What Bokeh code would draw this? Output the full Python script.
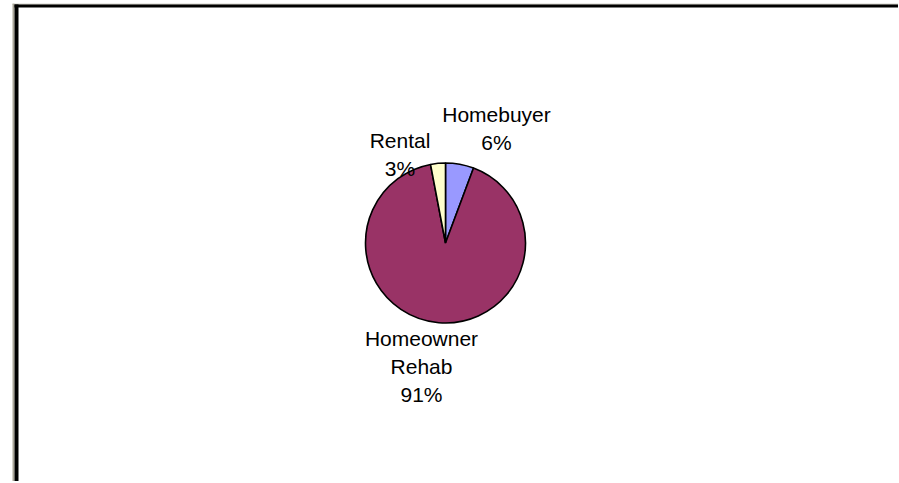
import math
from bokeh.plotting import figure
from bokeh.models import Range1d, ColumnDataSource
from bokeh.core.properties import value
from bokeh.embed import file_html
from bokeh.resources import INLINE

# ---- data ----
categories = ["Homebuyer", "Homeowner Rehab", "Rental"]
shares = [5.7, 91.3, 3.0]
colors = ["#9999FF", "#993366", "#FFFFCC"]
label_lines = [["Homebuyer"], ["Homeowner", "Rehab"], ["Rental"]]

# ---- layout (page pixel coordinates) ----
OX, OY = 3, 3          # figure top-left on page
W, H = 895, 478
CX, CY, R = 445, 242.5, 80
label_anchor = [(496, 114), (421, 338), (399.5, 140)]
LINE_H = 28
FONT = "Liberation Sans"

p = figure(width=W, height=H,
           x_range=Range1d(OX, OX + W), y_range=Range1d(-(OY + H), -OY),
           output_backend="svg", toolbar_location=None, min_border=0,
           background_fill_color="white", border_fill_color="white")
p.axis.visible = False
p.grid.visible = False
p.outline_line_color = None
p.styles = {"margin-left": "3px", "margin-top": "3px"}

# frame (gray outer, black inner) on top and left
p.quad(left=[12, 12], right=[OX + W, 14], top=[-3, -3], bottom=[-4, -(OY + H)],
       fill_color="#A9A698", line_color=None)
p.quad(left=[14, 14], right=[OX + W, 18], top=[-4, -4], bottom=[-7, -(OY + H)],
       fill_color="black", line_color=None)

# pie slices, clockwise from 12 o'clock
total = sum(shares)
starts, ends = [], []
cum = 0.0
for s in shares:
    starts.append(math.pi / 2 - 2 * math.pi * cum / total)
    cum += s
    ends.append(math.pi / 2 - 2 * math.pi * cum / total)

src = ColumnDataSource(dict(start=starts, end=ends, color=colors, name=categories))
p.wedge(x=CX, y=-CY, radius=R, start_angle="start", end_angle="end",
        direction="clock", fill_color="color", line_color="black",
        line_width=1.6, source=src)

# labels
tx, ty, tt = [], [], []
for i, s in enumerate(shares):
    lines = label_lines[i] + [f"{round(s / total * 100)}%"]
    ax, ay = label_anchor[i]
    for j, ln in enumerate(lines):
        tx.append(ax)
        ty.append(-(ay + j * LINE_H))
        tt.append(ln)
p.text(x=tx, y=ty, text=tt, text_align="center", text_baseline="alphabetic",
       text_font=value(FONT), text_font_size="21px", text_color="black")

open("out.html", "w").write(file_html(p, INLINE))
